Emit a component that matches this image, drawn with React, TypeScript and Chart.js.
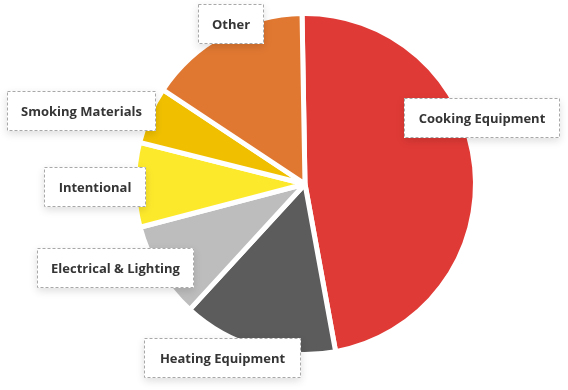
import React, { useEffect, useRef } from "react";
import { Chart, registerables } from "chart.js";

Chart.register(...registerables);

const categories = [
  "Cooking Equipment",
  "Heating Equipment",
  "Electrical & Lighting",
  "Intentional",
  "Smoking Materials",
  "Other",
];
const shares = [47.4, 14.7, 9.1, 8.0, 5.4, 15.4];
const sliceColors = ["#e03a36", "#5c5c5c", "#bdbdbd", "#fde92c", "#f0c000", "#e07832"];

// label box layout (left, top, width, height) in canvas pixels
const labelBoxes = [
  { x: 404, y: 98, w: 156, h: 40 },
  { x: 144, y: 338, w: 157, h: 40 },
  { x: 37, y: 248, w: 157, h: 40 },
  { x: 44, y: 167, w: 102, h: 40 },
  { x: 7, y: 91, w: 149, h: 40 },
  { x: 198, y: 4, w: 66, h: 40 },
];

const labelPlugin = {
  id: "labelBoxes",
  afterDatasetsDraw(chart: any) {
    const ctx = chart.ctx as CanvasRenderingContext2D;
    const labels = chart.data.labels as string[];
    labels.forEach((text, i) => {
      const b = labelBoxes[i];
      if (!b) return;
      ctx.save();
      ctx.shadowColor = "rgba(0,0,0,0.13)";
      ctx.shadowBlur = 8;
      ctx.shadowOffsetY = 3;
      ctx.fillStyle = "#ffffff";
      ctx.fillRect(b.x, b.y, b.w, b.h);
      ctx.restore();
      ctx.save();
      ctx.strokeStyle = "#a8a8a8";
      ctx.lineWidth = 1;
      ctx.setLineDash([3, 2]);
      ctx.strokeRect(b.x + 0.5, b.y + 0.5, b.w - 1, b.h - 1);
      ctx.setLineDash([]);
      ctx.fillStyle = "#353535";
      ctx.font = '700 13px "Open Sans"';
      ctx.textAlign = "center";
      ctx.textBaseline = "middle";
      ctx.fillText(text, b.x + b.w / 2, b.y + b.h / 2 + 1);
      ctx.restore();
    });
  },
};

export default function App() {
  const canvasRef = useRef<HTMLCanvasElement | null>(null);

  useEffect(() => {
    document.body.style.margin = "0";
    const canvas = canvasRef.current;
    if (!canvas) return;
    const chart = new Chart(canvas, {
      type: "pie",
      data: {
        labels: categories,
        datasets: [
          {
            data: shares,
            backgroundColor: sliceColors,
            borderColor: "#ffffff",
            borderWidth: 5,
            hoverOffset: 0,
          },
        ],
      },
      options: {
        animation: false,
        responsive: false,
        maintainAspectRatio: false,
        rotation: -1,
        layout: { padding: { left: 132, right: 90, top: 11, bottom: 33 } },
        plugins: {
          legend: { display: false },
          tooltip: { enabled: false },
        },
      },
      plugins: [labelPlugin],
    });
    return () => chart.destroy();
  }, []);

  return (
    <div style={{ width: 568, height: 390, background: "#ffffff" }}>
      <canvas ref={canvasRef} width={568} height={390} style={{ display: "block" }} />
    </div>
  );
}
